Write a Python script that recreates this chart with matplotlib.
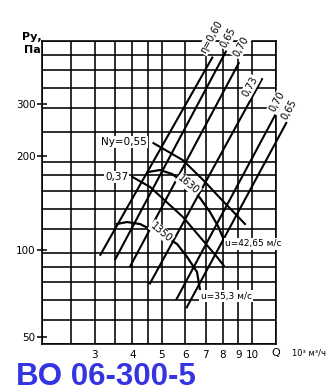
import numpy as np
import matplotlib
matplotlib.use("Agg")
import matplotlib.pyplot as plt
from matplotlib.ticker import FixedLocator, FixedFormatter, NullLocator

# ---------------- data ----------------
q_grid = [2, 2.5, 3, 3.5, 4, 4.5, 5, 6, 7, 8, 9, 10, 12]
p_grid = [50, 60, 70, 80, 90, 100, 120, 140, 160, 180, 200, 250, 300, 350, 400, 450, 500]
q_ticks = [3, 4, 5, 6, 7, 8, 9, 10]
q_tick_labels = ["3", "4", "5", "6", "7", "8", "9", "10"]
p_tick_labels = ["50", "100", "200", "300"]
p_tick_pos = [53, 102, 209, 309]

# efficiency lines (eta)
eta_labels = ["η=0,60", "0,65", "0,70", "0,73", "0,70", "0,65"]
eta_q = [[3.12, 7.40], [3.50, 8.40], [3.92, 9.06], [4.56, 10.82], [5.59, 12.94], [6.04, 14.10]]
eta_p = [[97.9, 443], [94.8, 484], [89.7, 425], [78.8, 376], [70.0, 331], [65.7, 312]]
eta_label_q = [7.30, 8.31, 9.18, 9.84, 12.09, 13.25]
eta_label_p = [514, 510, 477, 352, 314, 296]

# pressure curves for two speeds
rpm_labels = ["1630", "1350"]
curve_q = [[4.51, 4.94, 5.42, 6.12, 6.71, 7.24, 7.70, 8.06],
           [3.55, 3.84, 4.24, 4.65, 5.13, 5.63, 6.08, 6.56, 6.71]]
curve_p = [[184.7, 187.5, 182, 166, 151.7, 136.4, 122.6, 110.3],
           [124.5, 126.4, 124.5, 119, 113.6, 107, 97, 86.5, 75.5]]
rpm_label_q = [6.15, 5.0]
rpm_label_p = [168, 117]

# installed power lines (kW)
power_labels = ["Ny=0,55", "0,37"]
power_q = [[4.70, 5.89, 6.87, 7.82, 9.47],
           [4.00, 4.58, 5.89, 7.64, 8.06]]
power_p = [[230, 202, 174, 151.7, 124.5],
           [178, 164.9, 131.3, 97, 90.6]]
power_label_q = [3.75, 3.55]
power_label_p = [232, 178]

speed_labels = ["u=42,65 м/с", "u=35,3 м/с"]
speed_label_q = [10.1, 8.2]
speed_label_p = [107, 72]

# ---------------- figure ----------------
W, H = 334, 392
fig = plt.figure(figsize=(W / 100, H / 100), dpi=100)
ax = fig.add_axes([41.7 / W, (H - 344.3) / H, 234.3 / W, 303.6 / H])
ax.set_xscale("log")
ax.set_yscale("log")
ax.set_xlim(2, 12)
ax.set_ylim(50, 500)

lw_grid = 1.15
for q in q_grid:
    ax.axvline(q, color="black", lw=lw_grid, zorder=1)
for p in p_grid:
    ax.axhline(p, color="black", lw=lw_grid, zorder=1)
for s in ax.spines.values():
    s.set_linewidth(lw_grid)

ax.xaxis.set_major_locator(FixedLocator(q_ticks))
ax.xaxis.set_major_formatter(FixedFormatter(q_tick_labels))
ax.xaxis.set_minor_locator(NullLocator())
ax.yaxis.set_major_locator(FixedLocator(p_tick_pos))
ax.yaxis.set_major_formatter(FixedFormatter(p_tick_labels))
ax.yaxis.set_minor_locator(NullLocator())
ax.tick_params(axis="x", length=0, pad=4, labelsize=7.5)
ax.tick_params(axis="y", length=7, width=1.1, direction="inout", pad=1, labelsize=7.5)

# eta lines
for qs, ps, lab, lq, lp in zip(eta_q, eta_p, eta_labels, eta_label_q, eta_label_p):
    ax.plot(qs, ps, color="black", lw=1.5, zorder=3, clip_on=False, solid_capstyle="butt")
    ax.text(lq, lp, lab, rotation=61, ha="center", va="center", fontsize=7,
            rotation_mode="anchor", zorder=5, clip_on=False,
            bbox=dict(boxstyle="square,pad=0.1", fc="white", ec="none"))

# pressure curves
for qs, ps in zip(curve_q, curve_p):
    ax.plot(qs, ps, color="black", lw=1.6, zorder=3)
for lab, lq, lp in zip(rpm_labels, rpm_label_q, rpm_label_p):
    ax.text(lq, lp, lab, rotation=-40, ha="center", va="center", fontsize=7,
            rotation_mode="anchor", zorder=5,
            bbox=dict(boxstyle="square,pad=0.1", fc="white", ec="none"))

# power lines
for qs, ps in zip(power_q, power_p):
    ax.plot(qs, ps, color="black", lw=1.5, zorder=3)
for lab, lq, lp in zip(power_labels, power_label_q, power_label_p):
    ax.text(lq, lp, lab, ha="center", va="center", fontsize=7.5, zorder=5,
            bbox=dict(boxstyle="square,pad=0.1", fc="white", ec="none"))
for lab, lq, lp in zip(speed_labels, speed_label_q, speed_label_p):
    ax.text(lq, lp, lab, ha="center", va="center", fontsize=6.5, zorder=5,
            bbox=dict(boxstyle="square,pad=0.15", fc="white", ec="none"))

# axis labels
fig.text(32 / W, 1 - 37 / H, "Ру,", ha="center", va="center", fontsize=8, fontweight="bold")
fig.text(32 / W, 1 - 50 / H, "Па", ha="center", va="center", fontsize=8, fontweight="bold")
fig.text(276 / W, 1 - 353 / H, "Q", ha="center", va="center", fontsize=8)
fig.text(292 / W, 1 - 353 / H, "10³ м³/ч", ha="left", va="center", fontsize=6)

fig.text(16 / W, 7 / H, "ВО 06-300-5", ha="left", va="baseline", fontsize=22.5,
         fontweight="bold", color="#3434e0", family="Liberation Sans")

fig.savefig("out.png", dpi=100)
